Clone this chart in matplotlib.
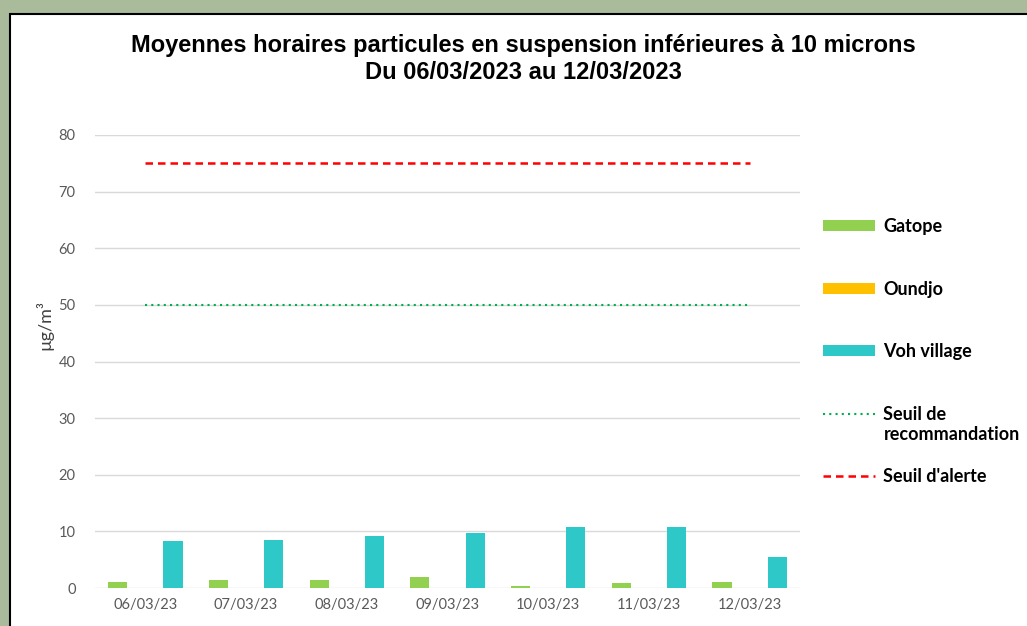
import matplotlib
matplotlib.use('Agg')
import matplotlib.pyplot as plt
from matplotlib.patches import Rectangle
import numpy as np

dates = ['06/03/23', '07/03/23', '08/03/23', '09/03/23', '10/03/23', '11/03/23', '12/03/23']
gatope = [1.1, 1.5, 1.5, 2.0, 0.4, 0.9, 1.1]
oundjo = [0, 0, 0, 0, 0, 0, 0]
voh = [8.3, 8.5, 9.2, 9.8, 10.8, 10.8, 5.5]
seuil_reco = [50] * 7
seuil_alerte = [75] * 7

fig = plt.figure(figsize=(10.27, 6.26), dpi=100, facecolor='#aabb9c')
# white panel with black border
fig.patches.append(Rectangle((10 / 1027, -0.05), 1.05, 1 - 14 / 626 + 0.05, transform=fig.transFigure,
                             facecolor='white', edgecolor='black', linewidth=1.5, zorder=-1))

ax = fig.add_axes([95 / 1027, 1 - 588 / 626, 705 / 1027, (588 - 135) / 626])
ax.set_facecolor('none')
x = np.arange(len(dates))
w = 0.19
b1 = ax.bar(x - 0.275, gatope, w, color='#92d050', label='Gatope', zorder=3)
b2 = ax.bar(x, oundjo, w, color='#ffc000', label='Oundjo', zorder=3)
b3 = ax.bar(x + 0.275, voh, w, color='#2ec8c8', label='Voh village', zorder=3)
l1, = ax.plot(x, seuil_reco, color='#00b050', linestyle=(0, (1, 2)), linewidth=1.5, label='Seuil de', zorder=4)
l2, = ax.plot(x, seuil_alerte, color='#ff0000', linestyle=(0, (3, 2)), linewidth=1.8, label="Seuil d'alerte", zorder=4)

ax.set_ylim(0, 80)
ax.set_xlim(-0.5, 6.5)
ax.set_yticks(range(0, 81, 10))
ax.set_xticks(x)
ax.set_xticklabels(dates)
ax.grid(axis='y', color='#d9d9d9', linewidth=1, zorder=0)
for s in ['top', 'right', 'left', 'bottom']:
    ax.spines[s].set_visible(False)
ax.tick_params(length=0, labelcolor='#595959', labelsize=10.5)
for lbl in ax.get_xticklabels() + ax.get_yticklabels():
    lbl.set_family('Lato')
ax.tick_params(axis='y', pad=14)
ax.tick_params(axis='x', pad=7)
ax.set_ylabel('µg/m³', fontsize=13, color='#404040', family='Lato')
ax.yaxis.set_label_coords(-42 / 705, 0.58)

fig.text(523 / 1027, 1 - 34 / 626,
         'Moyennes horaires particules en suspension inférieures à 10 microns\nDu 06/03/2023 au 12/03/2023',
         ha='center', va='top', fontsize=17, fontweight='bold', family='Liberation Sans', linespacing=1.22)

leg = fig.legend([b1, b2, b3, l1, l2], ['Gatope', 'Oundjo', 'Voh village', 'Seuil de', "Seuil d'alerte"],
                 loc='upper left', bbox_to_anchor=(823 / 1027, 1 - 218 / 626), frameon=False,
                 prop={'family': 'Lato', 'weight': 'bold', 'size': 13}, borderpad=0, borderaxespad=0,
                 handlelength=2.9, handleheight=0.55, handletextpad=0.45, labelspacing=2.52)

fig.canvas.draw()
bb = leg.get_texts()[3].get_window_extent()
fig.text(bb.x0 / fig.bbox.width, (bb.y0 - 3) / fig.bbox.height, 'recommandation',
         ha='left', va='top', fontsize=13, fontweight='bold', family='Lato')

fig.savefig('out.png', dpi=100, facecolor=fig.get_facecolor())
